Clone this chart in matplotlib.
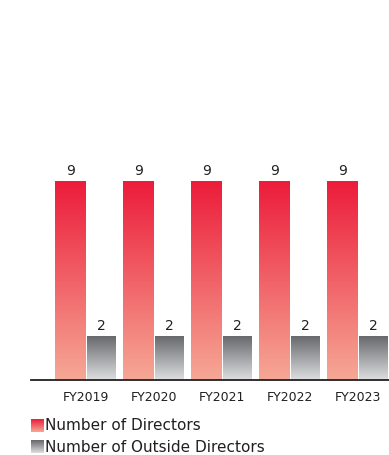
import numpy as np
import matplotlib.pyplot as plt
from matplotlib.colors import LinearSegmentedColormap

years = ['FY2019', 'FY2020', 'FY2021', 'FY2022', 'FY2023']
directors = [9, 9, 9, 9, 9]
outside_directors = [2, 2, 2, 2, 2]

red_cmap = LinearSegmentedColormap.from_list('red_grad', ['#F6A896', '#EC1C3A'])
gray_cmap = LinearSegmentedColormap.from_list('gray_grad', ['#DEDFE0', '#65666A'])
grad = np.linspace(0, 1, 256).reshape(-1, 1)


def gradient_bars(ax, bars, cmap):
    for b in bars:
        x0, y0 = b.get_x(), b.get_y()
        w, h = b.get_width(), b.get_height()
        im = ax.imshow(grad, cmap=cmap, aspect='auto', origin='lower',
                       extent=[x0, x0 + w, y0, y0 + h], zorder=2)
        im.set_clip_path(b)
        b.set_facecolor('none')


fig = plt.figure(figsize=(3.89, 4.55), dpi=100)
ax = fig.add_axes([31 / 389, 75 / 455, 358 / 389, 360 / 455])

x = np.arange(len(years))
w_red = 0.45
w_gray = 0.42
bars1 = ax.bar(x - 0.225, directors, width=w_red, edgecolor='white', linewidth=0.6, zorder=1)
bars2 = ax.bar(x + 0.23, outside_directors, width=w_gray, edgecolor='white', linewidth=0.6, zorder=1)
gradient_bars(ax, bars1, red_cmap)
gradient_bars(ax, bars2, gray_cmap)

for b in list(bars1) + list(bars2):
    ax.annotate(f'{int(b.get_height())}', (b.get_x() + b.get_width() / 2, b.get_height()),
                xytext=(0, 2), textcoords='offset points', ha='center', va='bottom',
                fontsize=10, color='#231F20')

ax.set_xlim(-0.809, 4.456)
ax.set_ylim(0, 16.29)
ax.set_xticks(x)
ax.set_xticklabels(years, fontsize=9, color='#231F20')
ax.tick_params(axis='x', length=0, pad=8)
ax.set_yticks([])
for s in ['top', 'right', 'left']:
    ax.spines[s].set_visible(False)
ax.spines['bottom'].set_linewidth(1.3)
ax.spines['bottom'].set_color('#231F20')

# legend drawn by hand (gradient swatches)
lg = fig.add_axes([0, 0, 1, 1])
lg.set_xlim(0, 389)
lg.set_ylim(455, 0)
lg.axis('off')
entries = [('Number of Directors', red_cmap, 426), ('Number of Outside Directors', gray_cmap, 447)]
for label, cmap, yc in entries:
    lg.imshow(grad, cmap=cmap, aspect='auto', origin='lower',
              extent=[31, 44, yc + 6, yc - 7])
    lg.text(45, yc, label, fontsize=11, va='center', ha='left', color='#231F20')
lg.set_xlim(0, 389)
lg.set_ylim(455, 0)

fig.savefig('out.png', dpi=100)
